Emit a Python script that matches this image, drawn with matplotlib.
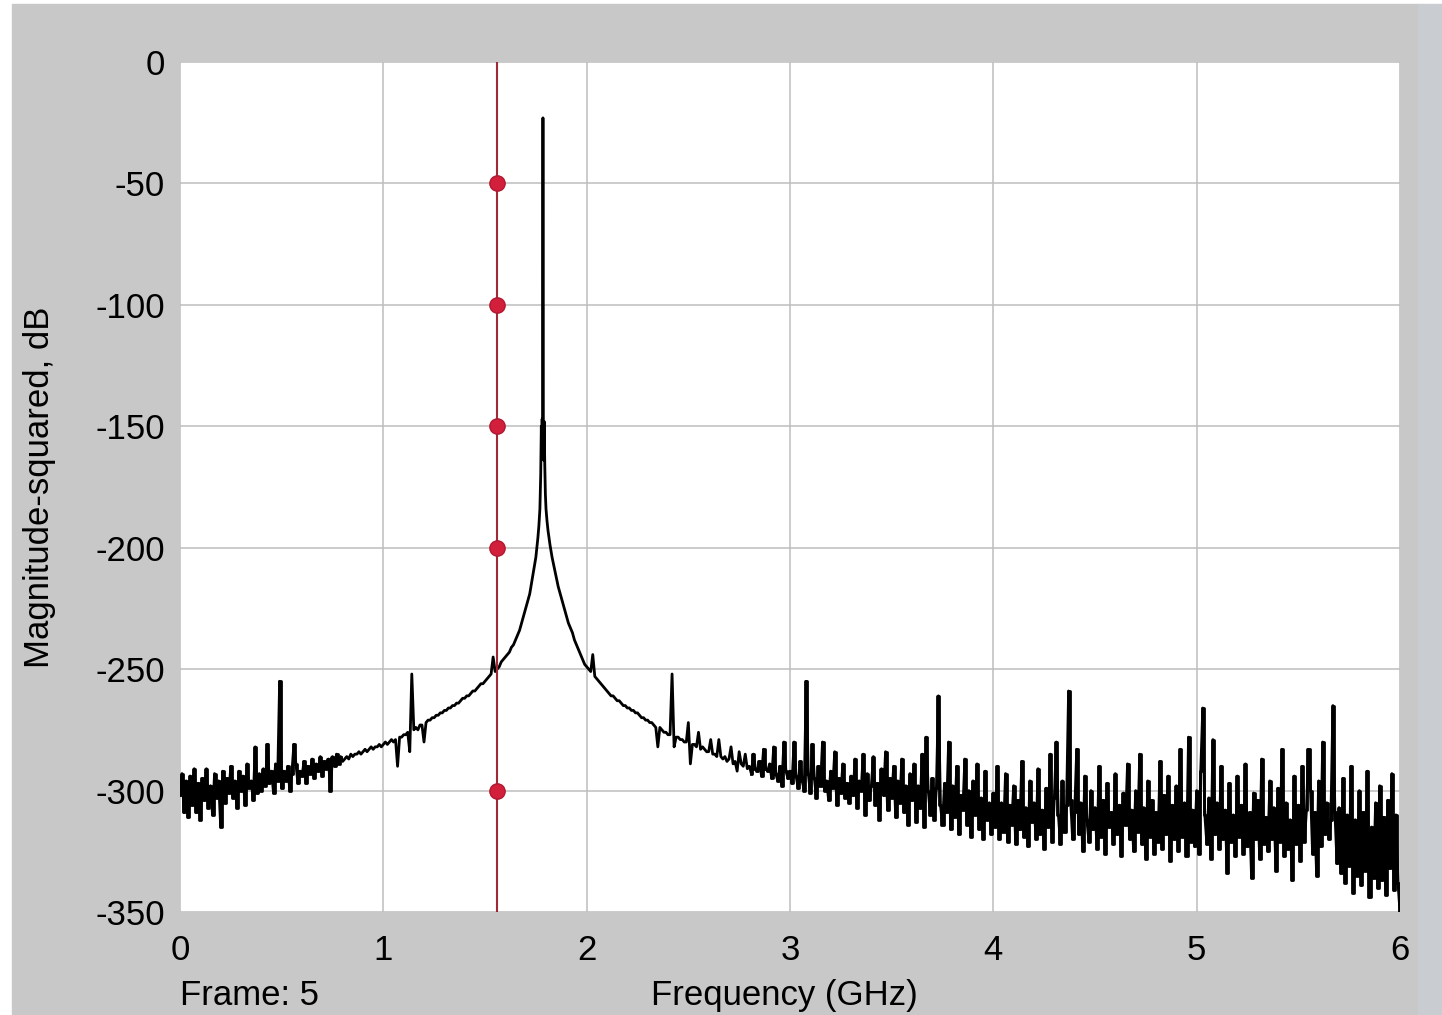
import matplotlib.pyplot as plt
import numpy as np
from matplotlib.patches import Rectangle

plt.rcParams['font.family'] = ['Liberation Sans', 'DejaVu Sans']
plt.rcParams['axes.unicode_minus'] = False

# spectrum, low part: 0.00 .. 1.70 GHz, 0.01 GHz bins
mag_lo = [
    -302, -293, -309, -296, -311, -294, -306, -291, -309, -297,
    -312, -295, -304, -291, -307, -298, -310, -293, -303, -296,
    -315, -292, -305, -295, -301, -290, -303, -296, -307, -292,
    -300, -294, -306, -289, -299, -296, -304, -282, -301, -293,
    -300, -291, -298, -281, -297, -292, -301, -289, -296, -255,
    -299, -292, -296, -290, -300, -293, -281, -289, -297, -292,
    -294, -288, -297, -290, -293, -287, -295, -289, -292, -286,
    -294, -288, -291, -287, -300, -286, -290, -285, -289, -286,
    -288, -287, -286, -287, -285, -286, -285, -285, -284, -285,
    -284, -283, -284, -283, -282, -283, -282, -282, -281, -282,
    -281, -280, -281, -280, -279, -280, -279, -290, -278, -278,
    -277, -277, -276, -284, -252, -275, -274, -275, -273, -273,
    -280, -272, -271, -271, -270, -270, -269, -269, -268, -268,
    -267, -267, -266, -266, -265, -265, -264, -264, -263, -262,
    -262, -261, -261, -260, -259, -259, -258, -257, -256, -256,
    -255, -254, -253, -252, -245, -251, -250, -249, -247, -246,
    -245, -244, -243, -241, -240, -238, -236, -234, -231, -228,
    -225,
]

# carrier peak, finer bins
peak_freq = [1.71, 1.72, 1.73, 1.74, 1.75, 1.755, 1.76, 1.765, 1.77, 1.774,
             1.777, 1.779, 1.781, 1.783, 1.785, 1.787, 1.789, 1.791, 1.794, 1.797,
             1.80, 1.805, 1.81, 1.82, 1.83, 1.84, 1.85, 1.86, 1.87, 1.88, 1.89]
peak_mag = [-222, -219, -214, -209, -204, -200, -196, -191, -184, -170,
            -150, -163, -147, -158, -23, -150, -164, -148, -166, -178,
            -184, -189, -193, -199, -204, -208, -212, -216, -219, -222, -225]

# spectrum, high part: 1.90 .. 6.00 GHz, 0.01 GHz bins
mag_hi = [
    -228, -231, -233, -235, -238, -240, -242, -244, -246, -248,
    -249, -250, -251, -244, -253, -254, -255, -256, -257, -258,
    -259, -260, -261, -261, -262, -263, -263, -264, -265, -265,
    -266, -266, -267, -267, -268, -268, -269, -270, -270, -271,
    -271, -272, -272, -273, -274, -282, -274, -275, -276, -276,
    -277, -277, -252, -282, -278, -278, -279, -279, -280, -280,
    -272, -289, -281, -281, -282, -276, -283, -282, -283, -284,
    -284, -279, -285, -285, -286, -279, -286, -287, -286, -288,
    -287, -282, -289, -288, -292, -284, -289, -290, -285, -291,
    -290, -293, -285, -291, -292, -288, -294, -283, -291, -292,
    -289, -295, -282, -293, -296, -290, -298, -280, -292, -295,
    -292, -297, -280, -294, -299, -288, -296, -300, -255, -293,
    -301, -281, -295, -303, -290, -298, -280, -300, -296, -304,
    -292, -299, -284, -306, -295, -301, -289, -303, -297, -305,
    -294, -302, -287, -307, -296, -300, -285, -310, -293, -304,
    -298, -286, -306, -297, -312, -291, -302, -284, -308, -295,
    -303, -290, -311, -296, -305, -287, -309, -298, -314, -293,
    -304, -289, -313, -298, -307, -285, -315, -278, -300, -310,
    -295, -312, -299, -261, -306, -314, -297, -309, -280, -316,
    -298, -311, -290, -318, -302, -308, -287, -314, -300, -319,
    -296, -310, -289, -316, -303, -320, -292, -312, -305, -318,
    -301, -315, -290, -320, -305, -317, -293, -321, -306, -314,
    -298, -322, -304, -316, -288, -319, -307, -323, -296, -313,
    -305, -320, -291, -318, -308, -324, -299, -315, -285, -321,
    -303, -280, -310, -322, -296, -317, -306, -259, -304, -320,
    -309, -283, -318, -305, -325, -294, -312, -321, -300, -316,
    -307, -324, -290, -319, -304, -326, -297, -315, -309, -322,
    -293, -318, -306, -327, -301, -314, -289, -320, -308, -325,
    -300, -317, -285, -322, -307, -328, -296, -319, -304, -326,
    -309, -321, -288, -324, -302, -318, -294, -329, -306, -320,
    -298, -325, -283, -319, -305, -327, -278, -321, -308, -323,
    -300, -326, -292, -266, -310, -322, -303, -328, -279, -318,
    -305, -324, -290, -320, -308, -334, -297, -321, -310, -327,
    -294, -319, -306, -326, -289, -323, -309, -336, -301, -320,
    -304, -328, -287, -322, -311, -325, -296, -320, -307, -333,
    -299, -321, -283, -327, -305, -324, -312, -337, -294, -322,
    -306, -329, -290, -321, -308, -283, -300, -326, -309, -335,
    -296, -323, -280, -318, -305, -320, -312, -265, -309, -330,
    -307, -334, -295, -338, -310, -331, -290, -342, -312, -335,
    -300, -339, -309, -333, -292, -344, -315, -336, -305, -340,
    -298, -337, -311, -343, -304, -332, -293, -341, -310, -338,
    -350,
]

marker_freq = 1.559
marker_levels = [-50, -100, -150, -200, -300]

x_ticks = [0, 1, 2, 3, 4, 5, 6]
y_ticks = [-350, -300, -250, -200, -150, -100, -50, 0]

freq = np.concatenate([np.linspace(0.0, 1.70, len(mag_lo)),
                       peak_freq,
                       np.linspace(1.90, 6.00, len(mag_hi))])
mag = np.concatenate([mag_lo, peak_mag, mag_hi])

fig = plt.figure(figsize=(14.42, 10.15), dpi=100, facecolor='white')
fig.patches.append(Rectangle((12 / 1442, 0), (1418 - 12) / 1442, 1 - 4 / 1015,
                             transform=fig.transFigure, color='#c8c8c8', zorder=-10))
fig.patches.append(Rectangle((1418 / 1442, 0), 24 / 1442, 1 - 4 / 1015,
                             transform=fig.transFigure, color='#c9cdd1', zorder=-10))

ax = fig.add_axes([180 / 1442, 1 - 912 / 1015, 1220 / 1442, 850 / 1015])
ax.set_facecolor('white')

ax.plot(freq, mag, color='black', lw=2.0, zorder=3)
# noisy parts again as vertical steps so the band fills in like a dense FFT
for part in (freq < 0.8, freq > 2.8):
    ax.plot(freq[part], mag[part], color='black', lw=2.0,
            drawstyle='steps-mid', zorder=3)

ax.axvline(marker_freq, color='#9e2a38', lw=1.5, zorder=4)
ax.plot([marker_freq] * len(marker_levels), marker_levels, 'o', ms=11,
        color='#d2203c', mec='#b01830', zorder=5)

ax.set_xlim(0, 6)
ax.set_ylim(-350, 0)
ax.set_xticks(x_ticks)
ax.set_yticks(y_ticks)
ax.grid(True, color='#bdbdbd', lw=1.1)
ax.set_axisbelow(True)
for s in ax.spines.values():
    s.set_visible(False)
ax.tick_params(length=0, labelsize=25)
ax.tick_params(axis='x', pad=16)
ax.tick_params(axis='y', pad=11)

ax.set_ylabel('Magnitude-squared, dB', fontsize=25)
ax.yaxis.set_label_coords(-0.102, 0.5)
ax.set_xlabel('Frequency (GHz)', fontsize=25)
ax.xaxis.set_label_coords(0.495, -0.098)
ax.xaxis.label.set_va('center')
ax.text(0.0, -0.098, 'Frame: 5', transform=ax.transAxes, fontsize=25,
        ha='left', va='center')

fig.savefig('out.png', dpi=100, facecolor=fig.get_facecolor())
